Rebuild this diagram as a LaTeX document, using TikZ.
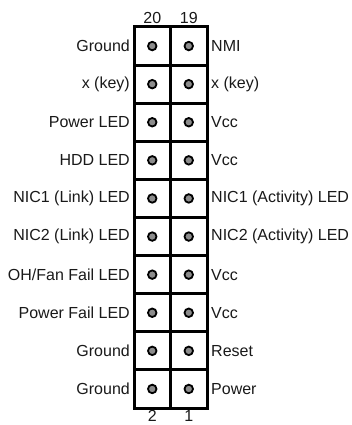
\documentclass[tikz,border=0pt]{standalone}
\usepackage{fontspec}
\setmainfont{Liberation Sans}
\usetikzlibrary{ calc, positioning }
\definecolor{pinfill}{HTML}{8C8C8C}
\tikzset{
  pincell/.style={draw, line width=3pt, minimum width=36.5pt, minimum height=38.1pt, outer sep=0pt, inner sep=0pt}, % one square of the header
  pindot/.style={circle, draw, line width=1.8pt, fill=pinfill, minimum size=8.5pt, inner sep=0pt}, % the pin itself
  every node/.style={inner sep=1pt},
  lbl/.style={font=\fontsize{16}{18}\selectfont, text=black!90},
}

\begin{document}
\begin{tikzpicture}[x=1pt, y=-1pt, node distance=3pt]
  \useasboundingbox (0,0) rectangle (352,425);

  \foreach \lname/\rname [count=\i] in {
      {Ground}/{NMI},
      {x (key)}/{x (key)},
      {Power LED}/{Vcc},
      {HDD LED}/{Vcc},
      {NIC1 (Link) LED}/{NIC1 (Activity) LED},
      {NIC2 (Link) LED}/{NIC2 (Activity) LED},
      {OH/Fan Fail LED}/{Vcc},
      {Power Fail LED}/{Vcc},
      {Ground}/{Reset},
      {Ground}/{Power}} {
    \node[pincell] (l\i) at (152.25, {27+38.1*(\i-0.5)}) {};
    \node[pincell] (r\i) at (188.75, {27+38.1*(\i-0.5)}) {};
    \node[pindot] (ld\i) at (l\i) {};
    \node[pindot] (rd\i) at (r\i) {};
    \node[lbl, left=of l\i] (ll\i) {\lname};
    \node[lbl, right=of r\i] (rl\i) {\rname};
  }

  % pin numbers
  \node[lbl, above=2pt of l1] (n20) {20};
  \node[lbl, above=2pt of r1] (n19) {19};
  \node[lbl, below=1pt of l10] (n2) {2};
  \node[lbl, below=1pt of r10] (n1) {1};
\end{tikzpicture}
\end{document}
